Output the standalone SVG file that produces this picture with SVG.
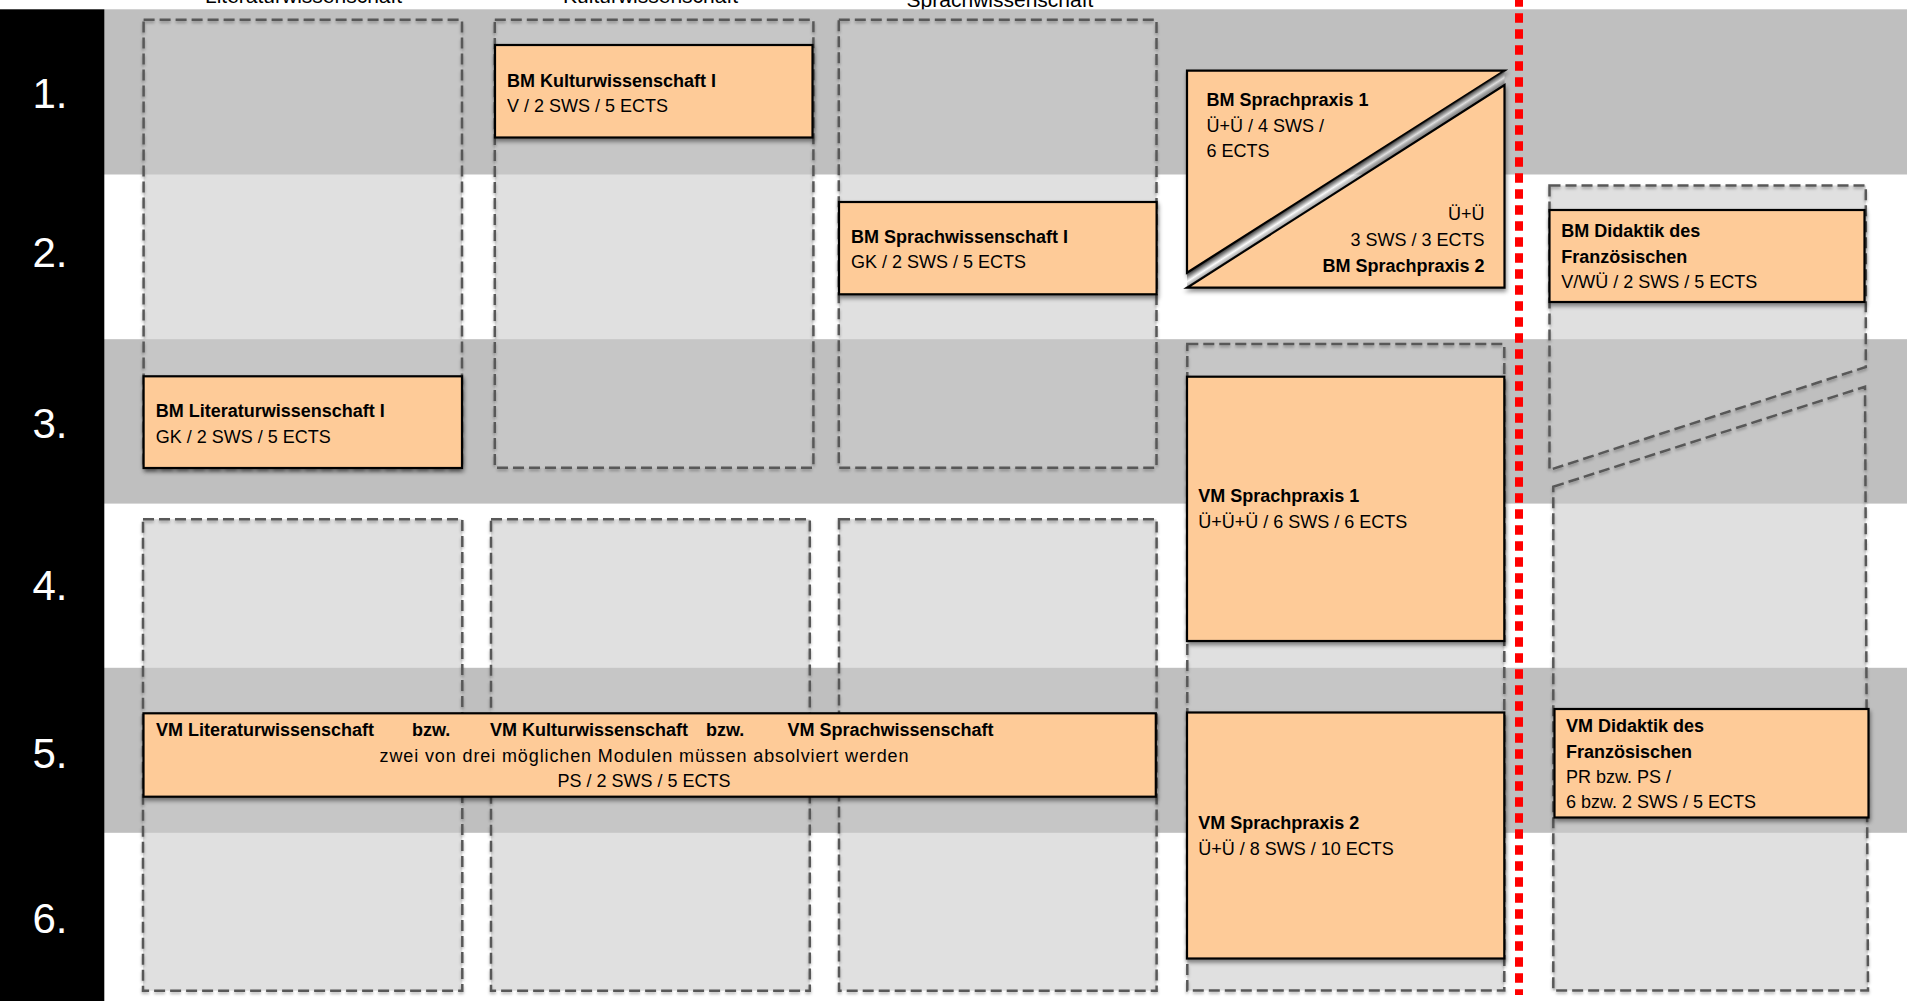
<svg xmlns="http://www.w3.org/2000/svg" width="1907" height="1001" viewBox="0 0 1907 1001">
<defs>
<style>
.band{fill:#bfbfbf}
.df{fill:#cbcbcb;fill-opacity:.6;stroke:none}
.ds{fill:none;stroke:#595959;stroke-width:2.5;stroke-dasharray:11 5;filter:url(#shd)}
.box{fill:#fecb98;stroke:#000;stroke-width:2.2;filter:url(#sh)}
.b{font-family:"Liberation Sans",Arial,sans-serif;font-weight:bold;font-size:18px;fill:#000}
.r{font-family:"Liberation Sans",Arial,sans-serif;font-size:18px;fill:#000}
.num{font-family:"Liberation Sans",Arial,sans-serif;font-size:42px;fill:#fff;text-anchor:middle}
.hdr{font-family:"Liberation Sans",Arial,sans-serif;font-size:21px;fill:#000;text-anchor:middle}
.end{text-anchor:end}
.mid{text-anchor:middle}
</style>
<filter id="sh" x="-10%" y="-10%" width="120%" height="130%">
<feDropShadow dx="1" dy="3" stdDeviation="2" flood-color="#000" flood-opacity="0.45"/>
</filter>
<filter id="shd" x="-10%" y="-10%" width="120%" height="130%">
<feDropShadow dx="0" dy="2" stdDeviation="1.5" flood-color="#000" flood-opacity="0.3"/>
</filter>
<linearGradient id="gap" gradientUnits="userSpaceOnUse" x1="1345.8" y1="171.7" x2="1352.3" y2="181.8">
<stop offset="0" stop-color="#000" stop-opacity="0.6"/>
<stop offset="0.55" stop-color="#fff" stop-opacity="0.6"/>
<stop offset="1" stop-color="#000" stop-opacity="0.3"/>
</linearGradient>
</defs>

<rect x="0" y="0" width="1907" height="1001" fill="#fff"/>

<g id="headers">
<text class="hdr" x="303.6" y="2.7">Literaturwissenschaft</text>
<text class="hdr" x="650.6" y="2.7">Kulturwissenschaft</text>
<text class="hdr" x="1000" y="7">Sprachwissenschaft</text>
</g>

<g id="bands">
<rect class="band" x="104" y="9.3" width="1803" height="165.2"/>
<rect class="band" x="104" y="339.2" width="1803" height="164.4"/>
<rect class="band" x="104" y="667.8" width="1803" height="165"/>
</g>

<g id="col-lit-top"><rect class="df" x="143.6" y="19.8" width="318.4" height="448"/><rect class="ds" x="143.6" y="19.8" width="318.4" height="448"/></g>
<g id="col-kult-top"><rect class="df" x="494.8" y="19.8" width="318.6" height="448"/><rect class="ds" x="494.8" y="19.8" width="318.6" height="448"/></g>
<g id="col-sprach-top"><rect class="df" x="838.8" y="19.8" width="317.7" height="448"/><rect class="ds" x="838.8" y="19.8" width="317.7" height="448"/></g>
<g id="col-lit-bottom"><rect class="df" x="143" y="519.2" width="319.3" height="471.5"/><rect class="ds" x="143" y="519.2" width="319.3" height="471.5"/></g>
<g id="col-kult-bottom"><rect class="df" x="491" y="519.2" width="318.8" height="471.5"/><rect class="ds" x="491" y="519.2" width="318.8" height="471.5"/></g>
<g id="col-sprach-bottom"><rect class="df" x="839" y="519.2" width="317.6" height="471.5"/><rect class="ds" x="839" y="519.2" width="317.6" height="471.5"/></g>
<g id="col-praxis"><rect class="df" x="1187.3" y="344" width="317" height="646.5"/><rect class="ds" x="1187.3" y="344" width="317" height="646.5"/></g>
<g id="col-didaktik-top"><polygon class="df" points="1549.5,185.5 1865.8,185.5 1865.8,367 1549.5,470"/><polygon class="ds" points="1549.5,185.5 1865.8,185.5 1865.8,367 1549.5,470"/></g>
<g id="col-didaktik-bottom"><polygon class="df" points="1553.3,486.7 1865,386.7 1868,990.5 1553.3,990.5"/><polygon class="ds" points="1553.3,486.7 1865,386.7 1868,990.5 1553.3,990.5"/></g>

<g id="bm-kulturwissenschaft">
<rect class="box" x="495" y="45" width="317.5" height="92.5"/>
<text class="b" x="507" y="86.5">BM Kulturwissenschaft I</text>
<text class="r" x="507" y="112">V / 2 SWS / 5 ECTS</text>
</g>

<g id="bm-sprachwissenschaft">
<rect class="box" x="839" y="202" width="317.6" height="92.3"/>
<text class="b" x="851" y="242.5">BM Sprachwissenschaft I</text>
<text class="r" x="851" y="268">GK / 2 SWS / 5 ECTS</text>
</g>

<g id="bm-literaturwissenschaft">
<rect class="box" x="143.6" y="376.3" width="318.4" height="91.7"/>
<text class="b" x="155.7" y="417">BM Literaturwissenschaft I</text>
<text class="r" x="155.7" y="442.5">GK / 2 SWS / 5 ECTS</text>
</g>

<g id="bm-sprachpraxis">
<polygon class="box" points="1187,70.7 1504.5,70.7 1187,272.7"/>
<polygon class="box" points="1504.5,85 1504.5,287.7 1187,287.7"/>
<polygon points="1504.5,70.7 1504.5,85 1187,287.7 1187,272.7" fill="url(#gap)"/>
<text class="b" x="1206.5" y="106">BM Sprachpraxis 1</text>
<text class="r" x="1206.5" y="131.5">Ü+Ü / 4 SWS /</text>
<text class="r" x="1206.5" y="157">6 ECTS</text>
<text class="r end" x="1484.6" y="220">Ü+Ü</text>
<text class="r end" x="1484.6" y="246">3 SWS / 3 ECTS</text>
<text class="b end" x="1484.6" y="271.7">BM Sprachpraxis 2</text>
</g>

<g id="bm-didaktik">
<rect class="box" x="1549.5" y="210" width="315" height="92"/>
<text class="b" x="1561.3" y="237.3">BM Didaktik des</text>
<text class="b" x="1561.3" y="263.3">Französischen</text>
<text class="r" x="1561.3" y="288.3">V/WÜ / 2 SWS / 5 ECTS</text>
</g>

<g id="vm-sprachpraxis-1">
<rect class="box" x="1187" y="376.7" width="317.3" height="264.3"/>
<text class="b" x="1198.3" y="501.7">VM Sprachpraxis 1</text>
<text class="r" x="1198.3" y="528.3">Ü+Ü+Ü / 6 SWS / 6 ECTS</text>
</g>

<g id="vm-wissenschaft">
<rect class="box" x="143.5" y="713.3" width="1012.3" height="83.4"/>
<text class="b" x="156" y="735.7">VM Literaturwissenschaft</text>
<text class="b" x="412" y="735.7">bzw.</text>
<text class="b" x="490" y="735.7">VM Kulturwissenschaft</text>
<text class="b" x="706" y="735.7">bzw.</text>
<text class="b" x="787.5" y="735.7">VM Sprachwissenschaft</text>
<text class="r mid" x="644" y="762" textLength="529">zwei von drei möglichen Modulen müssen absolviert werden</text>
<text class="r mid" x="644" y="787.3">PS / 2 SWS / 5 ECTS</text>
</g>

<g id="vm-sprachpraxis-2">
<rect class="box" x="1187" y="712.5" width="317.3" height="246"/>
<text class="b" x="1198.3" y="829.3">VM Sprachpraxis 2</text>
<text class="r" x="1198.3" y="855.3">Ü+Ü / 8 SWS / 10 ECTS</text>
</g>

<g id="vm-didaktik">
<rect class="box" x="1554.5" y="709" width="314" height="108.5"/>
<text class="b" x="1566" y="731.7">VM Didaktik des</text>
<text class="b" x="1566" y="757.7">Französischen</text>
<text class="r" x="1566" y="782.7">PR bzw. PS /</text>
<text class="r" x="1566" y="808.3">6 bzw. 2 SWS / 5 ECTS</text>
</g>

<g id="divider">
<line x1="1519" y1="-2.7" x2="1519" y2="995" stroke="#ff0000" stroke-width="8" stroke-dasharray="9.5 6.5"/>
</g>

<g id="semesters">
<rect x="0" y="9.3" width="104.3" height="992" fill="#000"/>
<text class="num" x="50" y="108">1.</text>
<text class="num" x="50" y="267">2.</text>
<text class="num" x="50" y="438">3.</text>
<text class="num" x="50" y="600">4.</text>
<text class="num" x="50" y="768">5.</text>
<text class="num" x="50" y="933">6.</text>
</g>
</svg>
